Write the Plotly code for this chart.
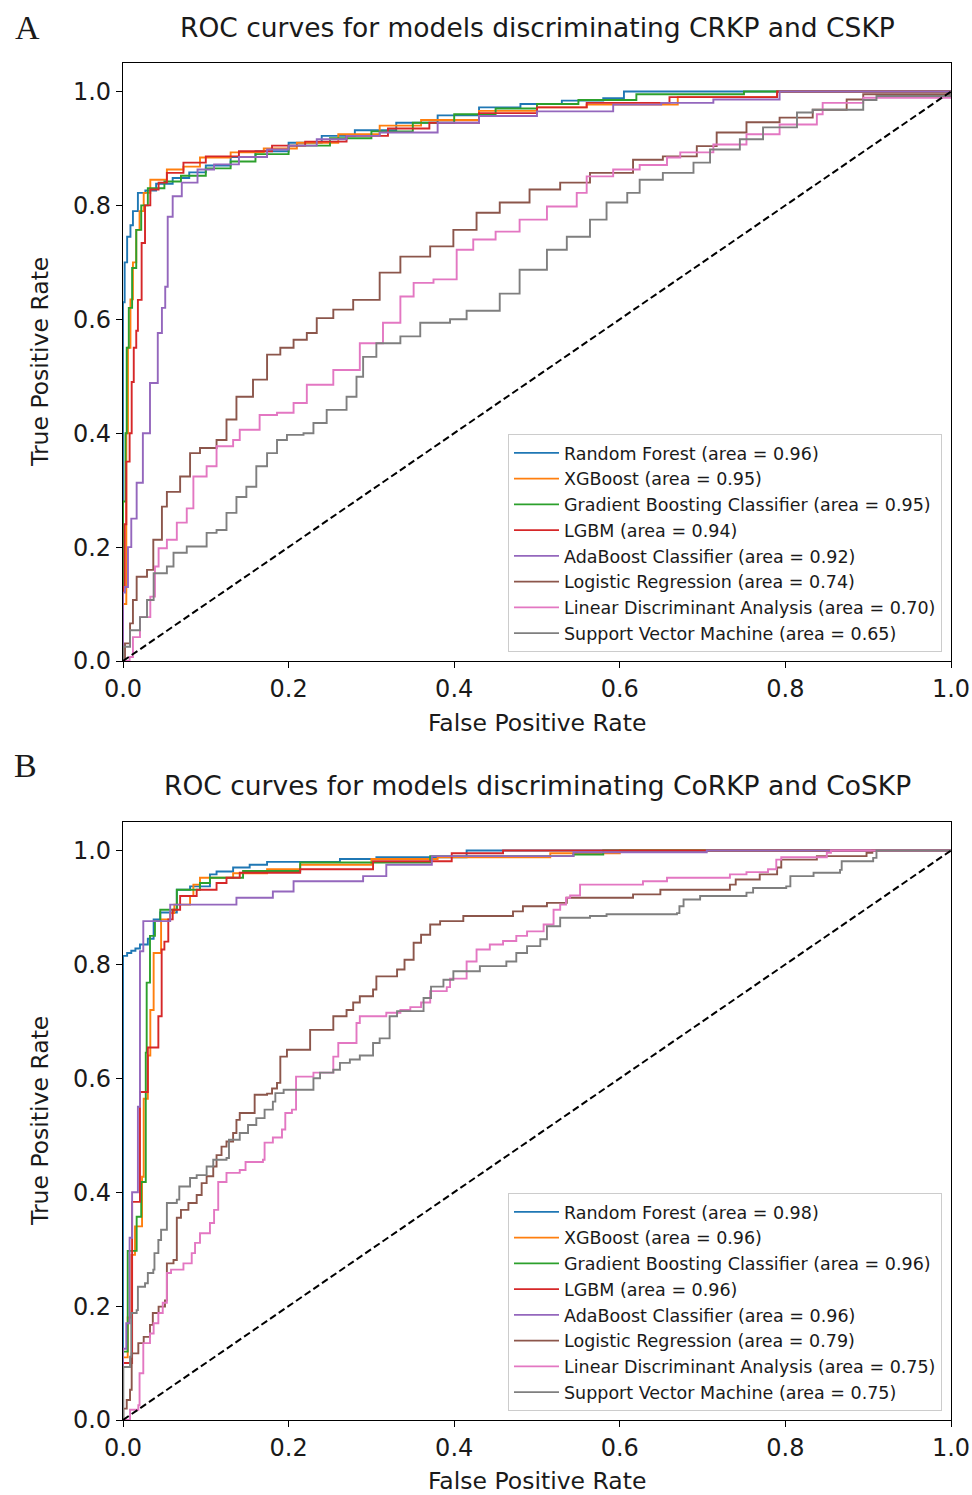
import plotly.graph_objects as go

# ---------------- Panel A data (CRKP vs CSKP) ----------------
A_RF_FPR = [0, 0, 0.002, 0.005, 0.009, 0.012, 0.018, 0.027, 0.04, 0.06, 0.08, 0.1, 0.13, 0.16, 0.2, 0.24, 0.28, 0.33, 0.38, 0.43, 0.48, 0.53, 0.58, 0.605, 1.0]
A_RF_TPR = [0, 0.63, 0.70, 0.745, 0.765, 0.79, 0.822, 0.826, 0.838, 0.848, 0.858, 0.87, 0.885, 0.895, 0.91, 0.922, 0.932, 0.945, 0.958, 0.972, 0.978, 0.984, 0.988, 1.0, 1.0]

A_XGB_FPR = [0, 0, 0.004, 0.006, 0.009, 0.012, 0.016, 0.020, 0.025, 0.033, 0.053, 0.073, 0.093, 0.13, 0.17, 0.21, 0.26, 0.31, 0.36, 0.43, 0.5, 0.56, 0.67, 0.79, 1.0]
A_XGB_TPR = [0, 0.10, 0.40, 0.55, 0.635, 0.70, 0.757, 0.79, 0.822, 0.845, 0.863, 0.868, 0.884, 0.893, 0.90, 0.91, 0.925, 0.94, 0.95, 0.966, 0.972, 0.977, 0.99, 1.0, 1.0]

A_GB_FPR = [0, 0, 0.003, 0.0045, 0.007, 0.011, 0.016, 0.022, 0.03, 0.05, 0.07, 0.1, 0.13, 0.16, 0.2, 0.25, 0.3, 0.35, 0.4, 0.45, 0.5, 0.55, 0.62, 0.75, 1.0]
A_GB_TPR = [0, 0.28, 0.40, 0.55, 0.62, 0.69, 0.757, 0.80, 0.83, 0.842, 0.852, 0.865, 0.877, 0.89, 0.905, 0.918, 0.93, 0.945, 0.96, 0.97, 0.978, 0.985, 0.995, 1.0, 1.0]

A_LGBM_FPR = [0, 0, 0.002, 0.004, 0.008, 0.0105, 0.013, 0.016, 0.018, 0.0225, 0.0266, 0.033, 0.043, 0.053, 0.073, 0.1, 0.14, 0.18, 0.22, 0.27, 0.32, 0.37, 0.43, 0.5, 0.56, 0.66, 0.79, 1.0]
A_LGBM_TPR = [0, 0.13, 0.24, 0.35, 0.40, 0.49, 0.55, 0.58, 0.634, 0.734, 0.80, 0.828, 0.84, 0.857, 0.875, 0.886, 0.895, 0.905, 0.912, 0.922, 0.935, 0.945, 0.962, 0.972, 0.98, 0.99, 1.0, 1.0]

A_ADA_FPR = [0, 0, 0.0024, 0.006, 0.01, 0.0165, 0.024, 0.0326, 0.042, 0.047, 0.051, 0.054, 0.06, 0.071, 0.09, 0.11, 0.14, 0.174, 0.2, 0.234, 0.27, 0.31, 0.38, 0.43, 0.5, 0.592, 0.65, 0.713, 0.793, 1.0]
A_ADA_TPR = [0, 0.12, 0.13, 0.2, 0.25, 0.313, 0.40, 0.488, 0.576, 0.62, 0.657, 0.78, 0.816, 0.84, 0.863, 0.872, 0.885, 0.898, 0.905, 0.916, 0.922, 0.928, 0.945, 0.957, 0.965, 0.977, 0.98, 0.986, 1.0, 1.0]

A_LR_FPR = [0, 0.0024, 0.0085, 0.012, 0.0165, 0.029, 0.0366, 0.047, 0.053, 0.069, 0.081, 0.093, 0.113, 0.125, 0.137, 0.157, 0.174, 0.19, 0.206, 0.222, 0.234, 0.254, 0.278, 0.31, 0.335, 0.371, 0.399, 0.427, 0.455, 0.491, 0.528, 0.564, 0.616, 0.652, 0.693, 0.717, 0.753, 0.793, 0.833, 0.874, 0.894, 1.0]
A_LR_TPR = [0, 0.031, 0.066, 0.107, 0.148, 0.16, 0.213, 0.271, 0.297, 0.324, 0.365, 0.374, 0.388, 0.424, 0.464, 0.494, 0.538, 0.55, 0.564, 0.576, 0.602, 0.617, 0.634, 0.682, 0.71, 0.728, 0.757, 0.787, 0.805, 0.828, 0.84, 0.857, 0.88, 0.886, 0.904, 0.928, 0.946, 0.954, 0.968, 0.986, 0.995, 1.0]

A_LDA_FPR = [0, 0.008, 0.012, 0.0205, 0.033, 0.0386, 0.043, 0.053, 0.065, 0.077, 0.085, 0.101, 0.113, 0.133, 0.141, 0.165, 0.186, 0.206, 0.222, 0.254, 0.286, 0.314, 0.335, 0.351, 0.375, 0.403, 0.423, 0.45, 0.479, 0.512, 0.548, 0.56, 0.592, 0.624, 0.657, 0.673, 0.713, 0.753, 0.793, 0.838, 0.845, 0.894, 1.0]
A_LDA_TPR = [0, 0.007, 0.042, 0.077, 0.113, 0.166, 0.198, 0.213, 0.243, 0.268, 0.324, 0.342, 0.377, 0.388, 0.406, 0.432, 0.436, 0.453, 0.485, 0.511, 0.558, 0.594, 0.64, 0.664, 0.67, 0.722, 0.74, 0.754, 0.775, 0.798, 0.822, 0.851, 0.863, 0.871, 0.884, 0.893, 0.907, 0.925, 0.942, 0.96, 0.98, 0.989, 1.0]

A_SVM_FPR = [0, 0.0004, 0.0085, 0.0205, 0.029, 0.037, 0.053, 0.061, 0.077, 0.101, 0.113, 0.125, 0.137, 0.149, 0.161, 0.174, 0.186, 0.198, 0.218, 0.23, 0.246, 0.27, 0.282, 0.29, 0.306, 0.335, 0.359, 0.395, 0.415, 0.455, 0.479, 0.512, 0.536, 0.564, 0.584, 0.609, 0.624, 0.652, 0.689, 0.709, 0.745, 0.773, 0.814, 0.833, 0.894, 0.91, 1.0]
A_SVM_TPR = [0, 0.025, 0.054, 0.077, 0.107, 0.154, 0.166, 0.19, 0.201, 0.225, 0.23, 0.26, 0.288, 0.306, 0.342, 0.365, 0.388, 0.397, 0.40, 0.418, 0.441, 0.464, 0.499, 0.534, 0.558, 0.57, 0.594, 0.60, 0.615, 0.645, 0.687, 0.722, 0.745, 0.775, 0.805, 0.822, 0.845, 0.857, 0.875, 0.898, 0.916, 0.937, 0.963, 0.968, 0.985, 0.992, 1.0]

# ---------------- Panel B data (CoRKP vs CoSKP) ----------------
B_RF_FPR = [0, 0, 0.005, 0.01, 0.015, 0.0205, 0.03, 0.037, 0.045, 0.065, 0.081, 0.105, 0.113, 0.133, 0.153, 0.174, 0.262, 0.306, 0.415, 1.0]
B_RF_TPR = [0, 0.815, 0.82, 0.824, 0.828, 0.835, 0.845, 0.879, 0.891, 0.931, 0.937, 0.958, 0.963, 0.97, 0.975, 0.98, 0.985, 0.988, 1.0, 1.0]

B_XGB_FPR = [0, 0, 0.0057, 0.01, 0.0145, 0.023, 0.025, 0.03, 0.033, 0.037, 0.046, 0.057, 0.062, 0.081, 0.085, 0.093, 0.133, 0.174, 0.214, 0.3, 0.38, 0.516, 0.6, 1.0]
B_XGB_TPR = [0, 0.11, 0.18, 0.29, 0.34, 0.427, 0.564, 0.64, 0.72, 0.82, 0.879, 0.89, 0.905, 0.92, 0.94, 0.952, 0.96, 0.967, 0.975, 0.985, 0.988, 0.995, 1.0, 1.0]

B_GB_FPR = [0, 0, 0.0057, 0.0165, 0.022, 0.0275, 0.0286, 0.0326, 0.0386, 0.045, 0.065, 0.093, 0.105, 0.145, 0.214, 0.371, 0.544, 0.58, 1.0]
B_GB_TPR = [0, 0.12, 0.297, 0.357, 0.418, 0.645, 0.768, 0.85, 0.876, 0.896, 0.931, 0.943, 0.952, 0.964, 0.979, 0.99, 0.993, 1.0, 1.0]

B_LGBM_FPR = [0, 0, 0.011, 0.0205, 0.03, 0.0427, 0.0467, 0.05, 0.0547, 0.06, 0.069, 0.089, 0.113, 0.125, 0.141, 0.214, 0.302, 0.397, 0.459, 1.0]
B_LGBM_TPR = [0, 0.10, 0.383, 0.576, 0.654, 0.709, 0.826, 0.84, 0.879, 0.896, 0.92, 0.931, 0.943, 0.952, 0.961, 0.967, 0.981, 0.995, 1.0, 1.0]

B_ADA_FPR = [0, 0, 0.004, 0.008, 0.011, 0.018, 0.0205, 0.0245, 0.057, 0.137, 0.181, 0.206, 0.29, 0.318, 0.373, 0.544, 0.705, 1.0]
B_ADA_TPR = [0, 0.125, 0.17, 0.32, 0.40, 0.55, 0.823, 0.876, 0.905, 0.917, 0.928, 0.946, 0.955, 0.975, 0.99, 0.997, 1.0, 1.0]

B_LR_FPR = [0, 0.0004, 0.0045, 0.0085, 0.0105, 0.0185, 0.025, 0.0326, 0.036, 0.043, 0.0507, 0.053, 0.061, 0.065, 0.07, 0.079, 0.089, 0.095, 0.101, 0.109, 0.113, 0.119, 0.125, 0.133, 0.137, 0.141, 0.159, 0.174, 0.18, 0.186, 0.19, 0.198, 0.226, 0.254, 0.27, 0.278, 0.286, 0.302, 0.306, 0.331, 0.34, 0.351, 0.36, 0.371, 0.383, 0.411, 0.471, 0.483, 0.512, 0.536, 0.616, 0.649, 0.733, 0.74, 0.769, 0.79, 0.795, 0.838, 0.898, 0.905, 1.0]
B_LR_TPR = [0, 0.02, 0.035, 0.053, 0.117, 0.135, 0.146, 0.167, 0.188, 0.199, 0.21, 0.275, 0.281, 0.355, 0.369, 0.381, 0.395, 0.416, 0.428, 0.445, 0.465, 0.48, 0.489, 0.504, 0.527, 0.539, 0.571, 0.573, 0.582, 0.592, 0.638, 0.65, 0.685, 0.709, 0.72, 0.733, 0.744, 0.756, 0.779, 0.791, 0.808, 0.838, 0.852, 0.87, 0.876, 0.885, 0.893, 0.902, 0.908, 0.917, 0.923, 0.931, 0.94, 0.949, 0.958, 0.97, 0.984, 0.99, 0.996, 1.0, 1.0]

B_LDA_FPR = [0, 0.0085, 0.0185, 0.02, 0.0245, 0.0326, 0.037, 0.0427, 0.048, 0.053, 0.058, 0.073, 0.083, 0.087, 0.093, 0.105, 0.11, 0.115, 0.125, 0.141, 0.148, 0.169, 0.171, 0.181, 0.192, 0.196, 0.204, 0.209, 0.23, 0.254, 0.26, 0.282, 0.286, 0.318, 0.335, 0.347, 0.36, 0.371, 0.391, 0.395, 0.415, 0.427, 0.443, 0.459, 0.475, 0.488, 0.508, 0.52, 0.528, 0.535, 0.54, 0.552, 0.628, 0.657, 0.733, 0.753, 0.779, 0.789, 0.795, 0.85, 0.855, 1.0]
B_LDA_TPR = [0, 0.018, 0.026, 0.082, 0.135, 0.152, 0.17, 0.188, 0.206, 0.258, 0.264, 0.275, 0.293, 0.311, 0.328, 0.346, 0.369, 0.418, 0.434, 0.439, 0.453, 0.457, 0.487, 0.496, 0.51, 0.539, 0.545, 0.603, 0.61, 0.638, 0.662, 0.697, 0.709, 0.715, 0.72, 0.725, 0.733, 0.753, 0.76, 0.775, 0.805, 0.826, 0.835, 0.841, 0.85, 0.858, 0.87, 0.896, 0.905, 0.917, 0.921, 0.94, 0.946, 0.952, 0.958, 0.962, 0.967, 0.984, 0.988, 0.996, 1.0, 1.0]

B_SVM_FPR = [0, 0.0004, 0.0085, 0.01, 0.0165, 0.018, 0.0266, 0.03, 0.0366, 0.038, 0.0427, 0.046, 0.053, 0.065, 0.068, 0.081, 0.089, 0.101, 0.109, 0.125, 0.128, 0.141, 0.151, 0.161, 0.171, 0.181, 0.184, 0.194, 0.23, 0.238, 0.254, 0.262, 0.274, 0.286, 0.302, 0.31, 0.322, 0.331, 0.363, 0.372, 0.387, 0.399, 0.431, 0.463, 0.475, 0.488, 0.504, 0.512, 0.528, 0.564, 0.584, 0.669, 0.672, 0.677, 0.697, 0.753, 0.761, 0.801, 0.806, 0.834, 0.866, 0.868, 0.906, 0.91, 1.0]
B_SVM_TPR = [0, 0.093, 0.111, 0.188, 0.193, 0.234, 0.24, 0.258, 0.264, 0.293, 0.316, 0.334, 0.381, 0.387, 0.41, 0.425, 0.43, 0.445, 0.457, 0.46, 0.492, 0.504, 0.518, 0.53, 0.545, 0.559, 0.574, 0.58, 0.60, 0.61, 0.615, 0.627, 0.633, 0.64, 0.662, 0.67, 0.709, 0.718, 0.741, 0.761, 0.773, 0.788, 0.797, 0.805, 0.82, 0.832, 0.844, 0.867, 0.882, 0.885, 0.888, 0.89, 0.902, 0.914, 0.92, 0.926, 0.934, 0.937, 0.955, 0.961, 0.966, 0.981, 0.987, 1.0, 1.0]

MODEL_NAMES = ["Random Forest", "XGBoost", "Gradient Boosting Classifier", "LGBM",
               "AdaBoost Classifier", "Logistic Regression",
               "Linear Discriminant Analysis", "Support Vector Machine"]
AUC_A = [0.96, 0.95, 0.95, 0.94, 0.92, 0.74, 0.70, 0.65]
AUC_B = [0.98, 0.96, 0.96, 0.96, 0.96, 0.79, 0.75, 0.75]
COLORS = ["#1f77b4", "#ff7f0e", "#2ca02c", "#d62728", "#9467bd", "#8c564b", "#e377c2", "#7f7f7f"]

CURVES_A = [(A_RF_FPR, A_RF_TPR), (A_XGB_FPR, A_XGB_TPR), (A_GB_FPR, A_GB_TPR), (A_LGBM_FPR, A_LGBM_TPR),
            (A_ADA_FPR, A_ADA_TPR), (A_LR_FPR, A_LR_TPR), (A_LDA_FPR, A_LDA_TPR), (A_SVM_FPR, A_SVM_TPR)]
CURVES_B = [(B_RF_FPR, B_RF_TPR), (B_XGB_FPR, B_XGB_TPR), (B_GB_FPR, B_GB_TPR), (B_LGBM_FPR, B_LGBM_TPR),
            (B_ADA_FPR, B_ADA_TPR), (B_LR_FPR, B_LR_TPR), (B_LDA_FPR, B_LDA_TPR), (B_SVM_FPR, B_SVM_TPR)]

TICKS = [0.0, 0.2, 0.4, 0.6, 0.8, 1.0]
TICK_TEXT = ["0.0", "0.2", "0.4", "0.6", "0.8", "1.0"]

# the page's body margin is removed by a post script, so the figure fills the window
W, H = 972, 1495
FONT = "DejaVu Sans"


def px_x(p):
    return p / W


def px_y(p):
    return 1 - p / H


fig = go.Figure()

for (fpr, tpr), name, auc, col in zip(CURVES_A, MODEL_NAMES, AUC_A, COLORS):
    fig.add_trace(go.Scatter(x=fpr, y=tpr, mode="lines", line=dict(color=col, width=1.9, shape="hv"),
                             name=f"{name} (area = {auc:.2f})", xaxis="x", yaxis="y", legend="legend"))
fig.add_trace(go.Scatter(x=[0, 1], y=[0, 1], mode="lines", line=dict(color="black", width=2, dash="7px,3.5px"),
                         showlegend=False, xaxis="x", yaxis="y"))

for (fpr, tpr), name, auc, col in zip(CURVES_B, MODEL_NAMES, AUC_B, COLORS):
    fig.add_trace(go.Scatter(x=fpr, y=tpr, mode="lines", line=dict(color=col, width=1.9, shape="hv"),
                             name=f"{name} (area = {auc:.2f})", xaxis="x2", yaxis="y2", legend="legend2"))
fig.add_trace(go.Scatter(x=[0, 1], y=[0, 1], mode="lines", line=dict(color="black", width=2, dash="7px,3.5px"),
                         showlegend=False, xaxis="x2", yaxis="y2"))

axis_common = dict(showline=True, mirror=True, linecolor="black", linewidth=1.2, ticks="outside", ticklen=6,
                   tickwidth=1.2, tickcolor="black", showgrid=False, zeroline=False, tickvals=TICKS,
                   ticktext=TICK_TEXT, automargin=False,
                   tickfont=dict(family=FONT, size=24, color="#1a1a1a"))

legend_common = dict(xanchor="right", yanchor="bottom", itemwidth=45,
                     bgcolor="rgba(255,255,255,0.8)", bordercolor="#cccccc", borderwidth=1,
                     font=dict(family=FONT, size=17.5, color="#1a1a1a"))

xdom = [px_x(123), px_x(951)]
fig.update_layout(
    width=W, height=H, margin=dict(l=0, r=0, t=0, b=0, pad=0), autosize=False,
    plot_bgcolor="white", paper_bgcolor="white",
    xaxis=dict(domain=xdom, range=[0, 1], anchor="y", **axis_common),
    yaxis=dict(domain=[px_y(661), px_y(63)], range=[0, 1.05], anchor="x", **axis_common),
    xaxis2=dict(domain=xdom, range=[0, 1], anchor="y2", **axis_common),
    yaxis2=dict(domain=[px_y(1420), px_y(822)], range=[0, 1.05], anchor="x2", **axis_common),
    legend=dict(x=px_x(942), y=px_y(652), **legend_common),
    legend2=dict(x=px_x(942), y=px_y(1411), **legend_common),
)

cx = px_x(537)
ann = [
    dict(text="ROC curves for models discriminating CRKP and CSKP", x=cx, y=px_y(27), size=26.5, family=FONT, angle=0),
    dict(text="ROC curves for models discriminating CoRKP and CoSKP", x=cx, y=px_y(785), size=26.5, family=FONT, angle=0),
    dict(text="A", x=px_x(27), y=px_y(27), size=34, family="Liberation Serif", angle=0),
    dict(text="B", x=px_x(25), y=px_y(765), size=34, family="Liberation Serif", angle=0),
    dict(text="True Positive Rate", x=px_x(40), y=px_y(362), size=23.5, family=FONT, angle=-90),
    dict(text="True Positive Rate", x=px_x(40), y=px_y(1121), size=23.5, family=FONT, angle=-90),
    dict(text="False Positive Rate", x=cx, y=px_y(723), size=23.5, family=FONT, angle=0),
    dict(text="False Positive Rate", x=cx, y=px_y(1481), size=23.5, family=FONT, angle=0),
]
for a in ann:
    fig.add_annotation(text=a["text"], x=a["x"], y=a["y"], xref="paper", yref="paper",
                       xanchor="center", yanchor="middle", showarrow=False, textangle=a["angle"],
                       font=dict(family=a["family"], size=a["size"], color="#1a1a1a"))

fig.write_html("out.html", config={"displayModeBar": False},
               post_script="document.body.style.margin='0';document.body.style.overflow='hidden';")
